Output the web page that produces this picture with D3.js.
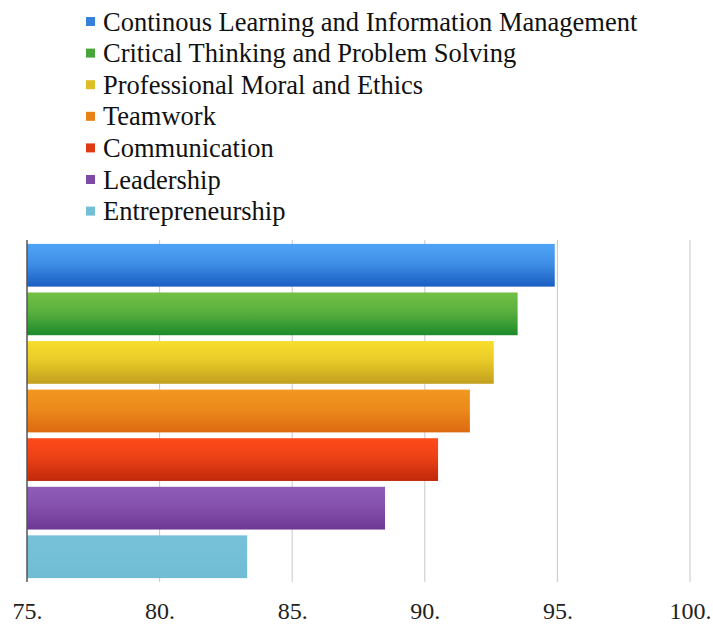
<!DOCTYPE html>
<html>
<head>
<meta charset="utf-8">
<script src="https://cdn.jsdelivr.net/npm/d3@7"></script>
<style>
  body { margin: 0; background: #fff; }
  svg { display: block; }
</style>
</head>
<body>
<svg width="713" height="628" font-family="Liberation Serif"></svg>
<script>
var categories = [
  "Continous Learning and Information Management",
  "Critical Thinking and Problem Solving",
  "Professional Moral and Ethics",
  "Teamwork",
  "Communication",
  "Leadership",
  "Entrepreneurship"
];
var values = [94.9, 93.5, 92.6, 91.7, 90.5, 88.5, 83.3];
var ticks = [75, 80, 85, 90, 95, 100];
var tickLabels = ["75.", "80.", "85.", "90.", "95.", "100."];

// top / bottom colour of each bar's gradient
var topColors = ["#4fa4f6", "#74c046", "#f8de2c", "#f2981f", "#ff4b1b", "#8f5cb6", "#76c1d8"];
var botColors = ["#1a5ec2", "#1c8a2c", "#c29f1e", "#dd6910", "#c0280a", "#6c3894", "#6fbcd3"];

var serif = "Liberation Serif";

var svg = d3.select("svg"),
    margin = {top: 240, right: 23, bottom: 46, left: 27},
    width = +svg.attr("width") - margin.left - margin.right,
    height = +svg.attr("height") - margin.top - margin.bottom;

// legend
var legend = svg.append("g")
    .attr("transform", "translate(86,22)");

var item = legend.selectAll(".item")
    .data(categories)
    .enter().append("g")
    .attr("class", "item")
    .attr("transform", function(d, i) { return "translate(0," + (i * 31.6) + ")"; });

item.append("rect")
    .attr("x", 0)
    .attr("y", -5)
    .attr("width", 9)
    .attr("height", 9)
    .style("fill", function(d, i) { return d3.interpolateRgb(topColors[i], botColors[i])(0.5); });

item.append("text")
    .attr("x", 17)
    .attr("y", 8.5)
    .attr("font-family", serif)
    .attr("font-size", 26.5)
    .attr("fill", "#111")
    .text(function(d) { return d; });

var x = d3.scaleLinear().domain([75, 100]).range([0, width]);
var y = d3.scaleBand().domain(categories).range([0, height]).paddingInner(0.12).paddingOuter(0.08);

var defs = svg.append("defs");
categories.forEach(function(c, i) {
  var g = defs.append("linearGradient")
      .attr("id", "grad" + i)
      .attr("x1", 0).attr("y1", 0).attr("x2", 0).attr("y2", 1);
  g.append("stop").attr("offset", "0%").attr("stop-color", topColors[i]);
  g.append("stop").attr("offset", "45%").attr("stop-color", d3.interpolateRgb(topColors[i], botColors[i])(0.3));
  g.append("stop").attr("offset", "100%").attr("stop-color", botColors[i]);
});

var chart = svg.append("g")
    .attr("transform", "translate(" + margin.left + "," + margin.top + ")");

// gridlines
chart.append("g")
    .selectAll("line")
    .data(ticks.slice(1))
    .enter().append("line")
    .attr("x1", function(d) { return x(d); })
    .attr("x2", function(d) { return x(d); })
    .attr("y1", 0)
    .attr("y2", height)
    .attr("stroke", "#c8c8c8")
    .attr("stroke-width", 1);

chart.selectAll(".bar")
    .data(values)
    .enter().append("rect")
    .attr("class", "bar")
    .attr("x", x(75))
    .attr("y", function(d, i) { return y(categories[i]); })
    .attr("width", function(d) { return x(d) - x(75); })
    .attr("height", y.bandwidth())
    .style("fill", function(d, i) { return "url(#grad" + i + ")"; });

// left axis line
chart.append("line")
    .attr("x1", 0).attr("x2", 0)
    .attr("y1", 0).attr("y2", height)
    .attr("stroke", "#555")
    .attr("stroke-width", 1.5);

var xAxis = d3.axisBottom(x)
    .tickValues(ticks)
    .tickSize(0)
    .tickPadding(20)
    .tickFormat(function(d, i) { return tickLabels[i]; });

var ax = chart.append("g")
    .attr("transform", "translate(0," + height + ")")
    .call(xAxis);
ax.select(".domain").remove();
ax.attr("font-family", serif).attr("font-size", 24);
ax.selectAll("text")
    .attr("fill", "#222");
</script>
</body>
</html>
